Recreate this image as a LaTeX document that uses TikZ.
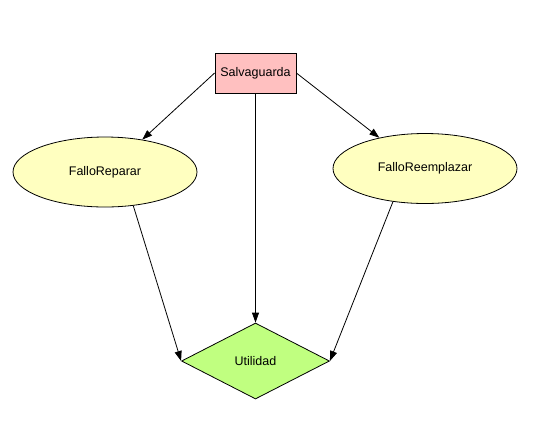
\documentclass[tikz,border=0pt]{standalone}
\usepackage{fontspec}
\setmainfont{Liberation Sans}
\usetikzlibrary{shapes.geometric,arrows.meta}
\definecolor{boxpink}{RGB}{255,192,192}
\definecolor{ovalyellow}{RGB}{255,255,192}
\definecolor{diamondgreen}{RGB}{192,255,128}

\begin{document}
\begin{tikzpicture}[x=1pt,y=-1pt,
	every node/.style={inner sep=0pt,draw=black,line width=0.8pt,font=\fontsize{12.5}{14}\selectfont},
	decision/.style={rectangle,fill=boxpink,minimum width=81pt,minimum height=40pt},
	chance/.style={ellipse,fill=ovalyellow,minimum width=184pt,minimum height=70pt},
	utility/.style={diamond,aspect=2,fill=diamondgreen,minimum width=148pt,minimum height=76pt},
	link/.style={draw=black,line width=0.8pt,-{Triangle[length=10pt,width=7pt]}}]
	\useasboundingbox (0,0) rectangle (538,429);
	\node [decision] (salv) at (255.5,73) {Salvaguarda};
	\node [chance] (rep) at (105,172) {FalloReparar};
	\node [chance] (reem) at (425,168.5) {FalloReemplazar};
	\node [utility] (util) at (255.5,361) {Utilidad};
	\draw [link] (salv.west) -- (rep.41);
	\draw [link] (salv.east) -- (reem.146);
	\draw [link] (salv.south) -- (util.north);
	\draw [link] (rep.310) -- (util.west);
	\draw [link] (reem.226) -- (util.east);
\end{tikzpicture}
\end{document}
